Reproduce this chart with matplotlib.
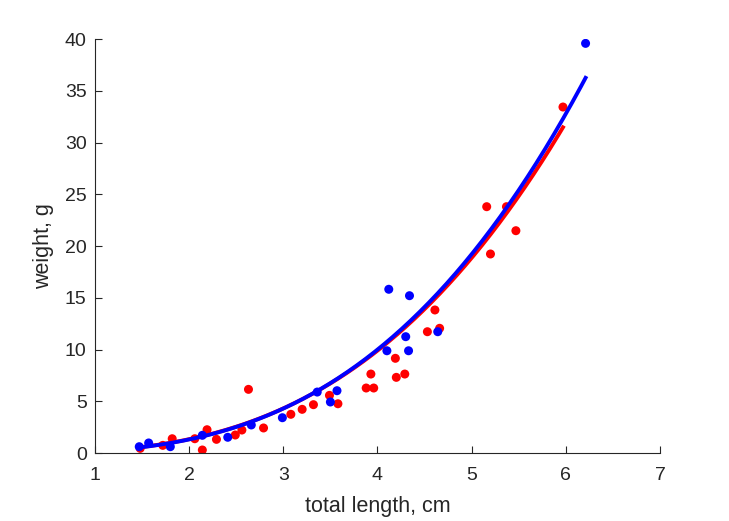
import numpy as np
import matplotlib
matplotlib.use("Agg")
import matplotlib.pyplot as plt

plt.rcParams['font.family'] = ['Liberation Sans', 'DejaVu Sans']

# red sample: total length (cm) and weight (g)
red_len = [1.48, 1.72, 1.82, 2.06, 2.19, 2.14, 2.29, 2.49, 2.56, 2.63, 2.79,
           3.08, 3.20, 3.32, 3.49, 3.58, 3.88, 3.96, 3.93, 4.19, 4.20, 4.29,
           4.53, 4.61, 4.66, 5.16, 5.37, 5.47, 5.20, 5.97]
red_wt = [0.45, 0.74, 1.38, 1.38, 2.25, 0.29, 1.32, 1.74, 2.22, 6.15, 2.42,
          3.74, 4.22, 4.67, 5.57, 4.76, 6.28, 6.28, 7.63, 9.15, 7.31, 7.63,
          11.72, 13.82, 12.05, 23.80, 23.80, 21.48, 19.23, 33.43]

# blue sample
blue_len = [1.47, 1.57, 1.80, 2.14, 2.41, 2.66, 2.99, 3.36, 3.57, 3.50,
            4.12, 4.34, 4.30, 4.10, 4.33, 4.64, 6.21]
blue_wt = [0.61, 0.97, 0.61, 1.71, 1.52, 2.71, 3.41, 5.89, 6.02, 4.93,
           15.82, 15.20, 11.24, 9.88, 9.88, 11.72, 39.58]

# power-law fits W = a * L^b
red_a, red_b = 0.180, 2.89
blue_a, blue_b = 0.172, 2.93

fig = plt.figure(figsize=(7.29, 5.21), dpi=100)
ax = fig.add_axes([0.1303, 0.1305, 0.775, 0.7946])

txt = '#262626'
ax.scatter(red_len, red_wt, s=42, color='#ff0000', edgecolors='none', zorder=2)
xr = np.linspace(min(red_len), max(red_len), 200)
ax.plot(xr, red_a * xr ** red_b, color='#ff0000', linewidth=2.8, zorder=3)

ax.scatter(blue_len, blue_wt, s=42, color='#0000ff', edgecolors='none', zorder=4)
xb = np.linspace(min(blue_len), max(blue_len), 200)
ax.plot(xb, blue_a * xb ** blue_b, color='#0000ff', linewidth=2.8, zorder=5)

ax.set_xlim(1, 7)
ax.set_ylim(0, 40)
ax.set_xticks(range(1, 8))
ax.set_yticks(range(0, 41, 5))
ax.spines['top'].set_visible(False)
ax.spines['right'].set_visible(False)
for s in ['left', 'bottom']:
    ax.spines[s].set_color(txt)
    ax.spines[s].set_linewidth(0.8)
ax.tick_params(direction='in', length=5, width=0.8, colors=txt, labelsize=14)
ax.tick_params(axis='y', pad=6)
ax.tick_params(axis='x', pad=10)
ax.set_xlabel('total length, cm', fontsize=15.5, color=txt, labelpad=9)
ax.set_ylabel('weight, g', fontsize=15.5, color=txt, labelpad=8)

fig.savefig('out.png', dpi=100)
